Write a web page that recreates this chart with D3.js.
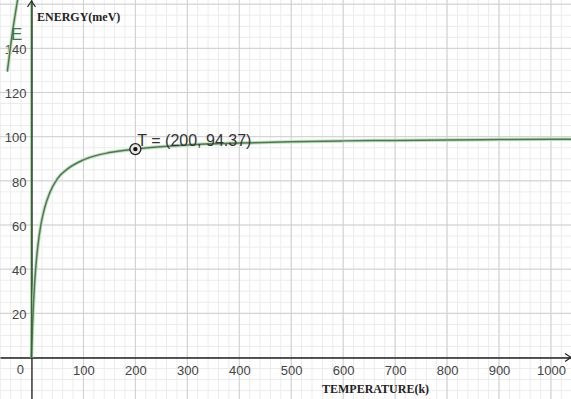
<!DOCTYPE html>
<html>
<head>
<meta charset="utf-8">
<script src="https://cdn.jsdelivr.net/npm/d3@7"></script>
<style>
  body { margin: 0; background: #fff; }
  svg { display: block; }
</style>
</head>
<body>
<div id="chart"></div>
<script>
// values
const temps = [0, 2, 4, 6, 8, 12, 18, 25, 35, 50, 70, 100, 150, 200, 300, 400, 500, 600, 700, 800, 900, 1000, 1045];
const energy = [0, 14, 25, 33.5, 40, 50, 60, 67.5, 74.5, 81, 85.5, 89.5, 92.8, 94.37, 96.2, 97.1, 97.7, 98.1, 98.3, 98.5, 98.7, 98.8, 98.9];
// left branch (negative temperature)
const tempsNeg = [-46.5, -40, -33, -28.5, -26];
const energyNeg = [129.5, 141.5, 153, 159.5, 163];
const xTicks = [100, 200, 300, 400, 500, 600, 700, 800, 900, 1000];
const yTicks = [20, 40, 60, 80, 100, 120, 140];
const point = {t: 200, e: 94.37, name: "T"};

const width = 571, height = 399;

const svg = d3.select("#chart")
    .append("svg")
    .attr("width", width)
    .attr("height", height);

/* scales: 0 sits at (31.5, 357.5) */
const x = d3.scaleLinear().domain([-60.6, 1038.6]).range([0, width]);
const y = d3.scaleLinear().domain([-18.8, 161.9]).range([height, 0]);

// minor grid
const minorX = d3.range(-60, 1041, 20);
const minorY = d3.range(-15, 162, 5);
svg.append("g")
    .selectAll("line")
    .data(minorX)
    .join("line")
    .attr("x1", d => x(d)).attr("x2", d => x(d))
    .attr("y1", 0).attr("y2", height)
    .attr("stroke", "#ececec").attr("stroke-width", 1);
svg.append("g")
    .selectAll("line")
    .data(minorY)
    .join("line")
    .attr("x1", 0).attr("x2", width)
    .attr("y1", d => y(d)).attr("y2", d => y(d))
    .attr("stroke", "#ececec").attr("stroke-width", 1);

// major grid
svg.append("g")
    .selectAll("line")
    .data(d3.range(-100, 1041, 100))
    .join("line")
    .attr("x1", d => x(d)).attr("x2", d => x(d))
    .attr("y1", 0).attr("y2", height)
    .attr("stroke", "#cfcfcf").attr("stroke-width", 1);
svg.append("g")
    .selectAll("line")
    .data(d3.range(-20, 162, 20))
    .join("line")
    .attr("x1", 0).attr("x2", width)
    .attr("y1", d => y(d)).attr("y2", d => y(d))
    .attr("stroke", "#cfcfcf").attr("stroke-width", 1);

/* axes */
const xAxis = d3.axisBottom(x)
    .tickValues(xTicks)
    .tickFormat(d3.format("d"))
    .tickSize(0)
    .tickSizeOuter(0)
    .tickPadding(8);
const yAxis = d3.axisLeft(y)
    .tickValues(yTicks)
    .tickFormat(d3.format("d"))
    .tickSize(0)
    .tickSizeOuter(0)
    .tickPadding(5);

const xG = svg.append("g")
    .attr("transform", `translate(0, ${y(0)})`)
    .call(xAxis);
const yG = svg.append("g")
    .attr("transform", `translate(${x(0)}, 0)`)
    .call(yAxis);

[xG, yG].forEach(g => {
    g.select(".domain").attr("stroke", "#222").attr("stroke-width", 1.3);
    g.selectAll("text")
        .attr("fill", "#444")
        .style("font-family", "'Liberation Sans', Arial, sans-serif")
        .style("font-size", "13px");
});
yG.selectAll("text").attr("dy", "0.4em");

svg.append("text")
    .attr("x", x(0) - 11).attr("y", y(0) + 17)
    .attr("text-anchor", "middle")
    .attr("fill", "#444")
    .style("font-family", "'Liberation Sans', Arial, sans-serif")
    .style("font-size", "13px")
    .text("0");

// arrow heads
svg.append("path")
    .attr("d", `M${x(0) - 4},${7} L${x(0)},${1} L${x(0) + 4},${7}`)
    .attr("fill", "none").attr("stroke", "#222").attr("stroke-width", 1.2);
svg.append("path")
    .attr("d", `M${width - 6},${y(0) - 4} L${width},${y(0)} L${width - 6},${y(0) + 4}`)
    .attr("fill", "none").attr("stroke", "#222").attr("stroke-width", 1.2);

// axis titles
svg.append("text")
    .attr("x", 37).attr("y", 21)
    .style("font-family", "'Liberation Serif', 'Times New Roman', serif")
    .style("font-weight", "bold")
    .style("font-size", "12px")
    .attr("fill", "#222")
    .text("ENERGY(meV)");
svg.append("text")
    .attr("x", 322).attr("y", 393)
    .style("font-family", "'Liberation Serif', 'Times New Roman', serif")
    .style("font-weight", "bold")
    .style("font-size", "12px")
    .attr("fill", "#222")
    .text("TEMPERATURE(k)");

/* curves */
const line = d3.line()
    .x(d => x(d[0]))
    .y(d => y(d[1]))
    .curve(d3.curveMonotoneX);

const mainData = temps.map((t, i) => [t, energy[i]]);
const negData = tempsNeg.map((t, i) => [t, energyNeg[i]]);

const curves = svg.append("g");
[mainData, negData].forEach(data => {
    curves.append("path")
        .attr("d", line(data))
        .attr("fill", "none")
        .attr("stroke", "#c3dcc3")
        .attr("stroke-width", 3.5);
    curves.append("path")
        .attr("d", line(data))
        .attr("fill", "none")
        .attr("stroke", "#4b7d4b")
        .attr("stroke-width", 1.5);
});

// vertical green line along the energy axis
svg.append("line")
    .attr("x1", x(0)).attr("x2", x(0))
    .attr("y1", y(0)).attr("y2", 2)
    .attr("stroke", "#2f6b2f").attr("stroke-width", 1.6);

// function label
svg.append("text")
    .attr("x", 11).attr("y", 40)
    .attr("fill", "#3f7a3f")
    .style("font-family", "'Liberation Sans', Arial, sans-serif")
    .style("font-size", "17px")
    .text("E");

/* highlighted point */
svg.append("circle")
    .attr("cx", x(point.t)).attr("cy", y(point.e))
    .attr("r", 5.5)
    .attr("fill", "#e6e6e6")
    .attr("stroke", "#222").attr("stroke-width", 1.3);
svg.append("circle")
    .attr("cx", x(point.t)).attr("cy", y(point.e))
    .attr("r", 2.2)
    .attr("fill", "#111");
svg.append("text")
    .attr("x", x(point.t) + 2).attr("y", y(point.e) - 3)
    .attr("fill", "#333")
    .style("font-family", "'Liberation Sans', Arial, sans-serif")
    .style("font-size", "16px")
    .text(`${point.name} = (${point.t}, ${point.e})`);
</script>
</body>
</html>
